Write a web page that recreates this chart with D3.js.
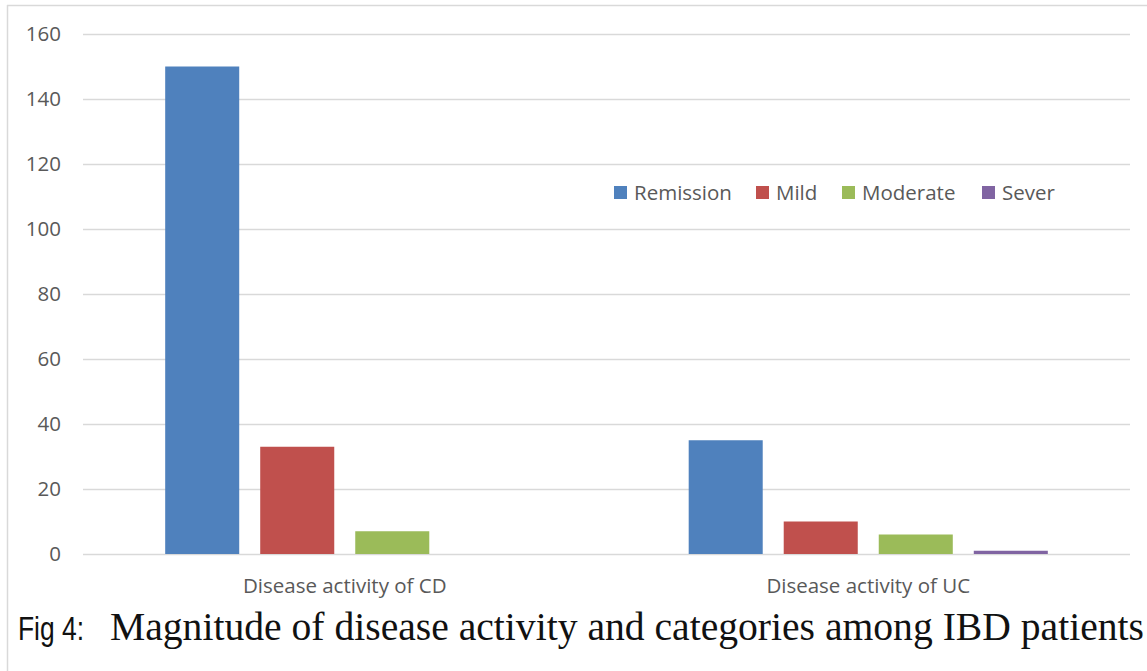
<!DOCTYPE html>
<html>
<head>
<meta charset="utf-8">
<script src="https://cdn.jsdelivr.net/npm/d3@7"></script>
<style>
  html, body { margin: 0; padding: 0; background: #fff; }
  svg { display: block; }
</style>
</head>
<body>
<svg id="chart" width="1147" height="671"></svg>
<script>
// Disease activity counts per IBD type
const categories = ["Disease activity of CD", "Disease activity of UC"];
const seriesNames = ["Remission", "Mild", "Moderate", "Sever"];
const remission = [150, 35];
const mild = [33, 10];
const moderate = [7, 6];
const sever = [0, 1];
const yTicks = [0, 20, 40, 60, 80, 100, 120, 140, 160];
const colors = ["#4F81BD", "#C0504D", "#9BBB59", "#8064A2"];
const caption = "Magnitude of disease activity and categories among IBD patients";

const seriesValues = [remission, mild, moderate, sever];
const rows = categories.map((c, i) => ({
  category: c,
  values: seriesNames.map((s, j) => ({ series: s, value: seriesValues[j][i] }))
}));

const svg = d3.select("#chart");
const W = 1147, H = 671;
const plot = { left: 83, right: 1130, top: 34, bottom: 554 };
const textColor = "#595959";
const gridColor = "#d9d9d9";

// outer frame (top and left edges)
svg.append("line").attr("x1", 7).attr("x2", W).attr("y1", 5.5).attr("y2", 5.5)
  .attr("stroke", gridColor).attr("stroke-width", 1.5);
svg.append("line").attr("x1", 7.5).attr("x2", 7.5).attr("y1", 5).attr("y2", H)
  .attr("stroke", gridColor).attr("stroke-width", 1.5);

const y = d3.scaleLinear().domain([0, 160]).range([plot.bottom, plot.top]);
const x0 = d3.scaleBand().domain(categories).range([plot.left, plot.right])
  .paddingInner(0.314).paddingOuter(0.157);
const x1 = d3.scaleBand().domain(seriesNames).range([0, x0.bandwidth()])
  .paddingInner(0.221).paddingOuter(0);

// gridlines and y tick labels
const yAxis = d3.axisLeft(y).tickValues(yTicks)
  .tickSize(-(plot.right - plot.left)).tickPadding(22).tickFormat(d3.format("d"));
const gy = svg.append("g").attr("transform", `translate(${plot.left},0)`).call(yAxis);
gy.select(".domain").remove();
gy.selectAll(".tick line").attr("stroke", gridColor).attr("stroke-width", 1.5);
gy.selectAll(".tick text").attr("fill", textColor)
  .style("font-family", "'Open Sans', sans-serif").style("font-size", "20.5px");

// bars
const groups = svg.append("g").selectAll("g").data(rows).join("g")
  .attr("transform", d => `translate(${x0(d.category)},0)`);
groups.selectAll("rect").data(d => d.values).join("rect")
  .attr("x", d => x1(d.series))
  .attr("width", x1.bandwidth())
  .attr("y", d => y(d.value))
  .attr("height", d => y(0) - y(d.value))
  .attr("fill", (d, i) => colors[i]);

// category axis labels
const xAxis = d3.axisBottom(x0).tickSize(0).tickPadding(24);
const gx = svg.append("g").attr("transform", `translate(0,${plot.bottom})`).call(xAxis);
gx.select(".domain").remove();
gx.selectAll(".tick text").attr("fill", textColor)
  .style("font-family", "'Open Sans', sans-serif").style("font-size", "20.5px");

// legend
const legendX = [614, 756, 842, 982];
const legend = svg.append("g").selectAll("g").data(seriesNames).join("g")
  .attr("transform", (d, i) => `translate(${legendX[i]},186)`);
legend.append("rect").attr("width", 13).attr("height", 13).attr("fill", (d, i) => colors[i]);
legend.append("text").attr("x", 20).attr("y", 13.5).text(d => d)
  .attr("fill", textColor)
  .style("font-family", "'Open Sans', sans-serif").style("font-size", "20.5px");

// figure caption
svg.append("text").attr("x", 0).attr("y", 0).text("Fig 4:")
  .attr("fill", "#111")
  .attr("transform", "translate(18,640) scale(0.8,1)")
  .style("font-family", "'Liberation Sans', sans-serif")
  .style("font-size", "33px");
const cap = svg.append("text").attr("x", 110).attr("y", 640).text(caption)
  .attr("fill", "#111")
  .style("font-family", "'Liberation Serif', 'Times New Roman', serif")
  .style("font-size", "40px");
// shrink the caption just enough to stay inside the right edge
const capW = cap.node().getComputedTextLength();
const maxW = W - 3 - 110;
if (capW > maxW) cap.style("font-size", (40 * maxW / capW).toFixed(2) + "px");
</script>
</body>
</html>
